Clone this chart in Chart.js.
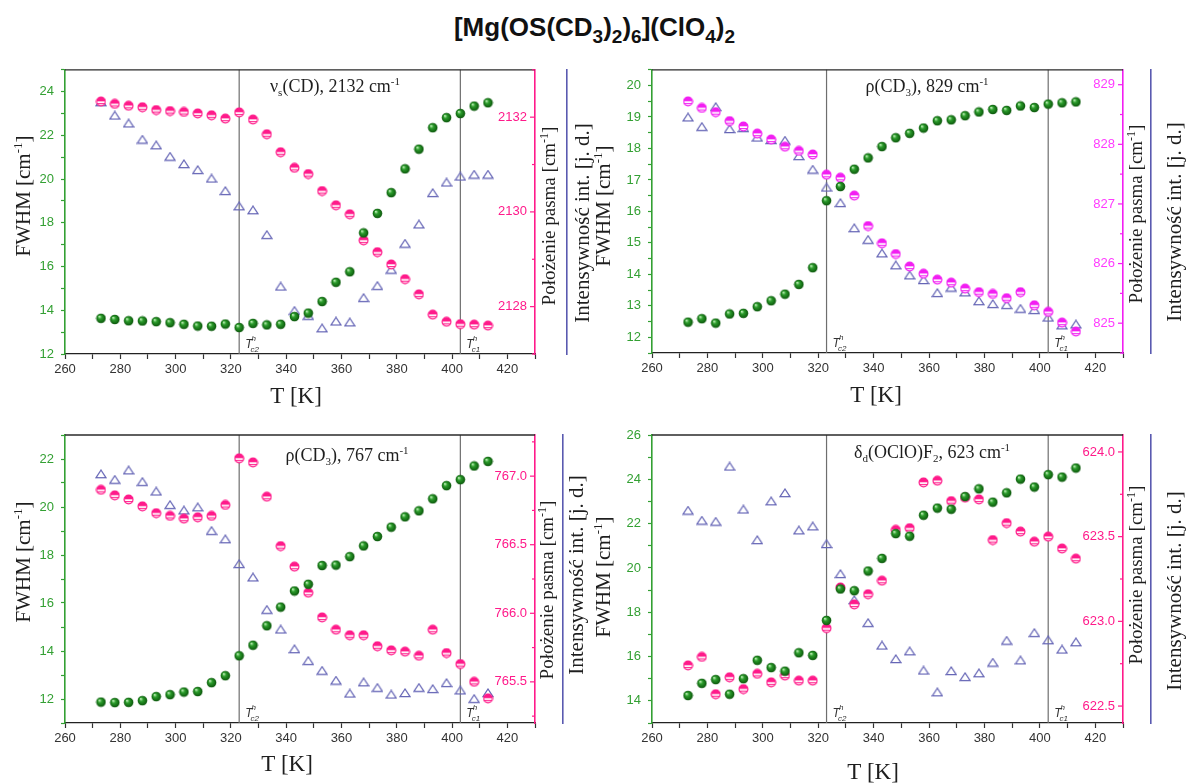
<!DOCTYPE html>
<html>
<head>
<meta charset="utf-8">
<script src="https://cdn.jsdelivr.net/npm/chart.js@4.4.0/dist/chart.umd.min.js"></script>
<style>
  html, body { margin: 0; padding: 0; background: #fff; }
  body { width: 1189px; height: 783px; position: relative; overflow: hidden; }
  #title {
    position: absolute; left: 0; top: 12px; width: 1189px; text-align: center;
    font: bold 26px "Liberation Sans", Arial, sans-serif; color: #111; line-height: 30px;
  }
  #title sub { font-size: 19px; vertical-align: -7px; line-height: 0; }
  .panel { position: absolute; }
  .panel canvas { display: block; }
</style>
</head>
<body>
<div id="title">[Mg(OS(CD<sub>3</sub>)<sub>2</sub>)<sub>6</sub>](ClO<sub>4</sub>)<sub>2</sub></div>
<div class="panel" style="left:0;top:55px;width:595px;height:360px"><canvas id="c1"></canvas></div>
<div class="panel" style="left:590px;top:55px;width:599px;height:360px"><canvas id="c2"></canvas></div>
<div class="panel" style="left:0;top:420px;width:595px;height:363px"><canvas id="c3"></canvas></div>
<div class="panel" style="left:590px;top:420px;width:599px;height:363px"><canvas id="c4"></canvas></div>

<script>
// Measurement temperatures [K]
const temperatures = [273, 278, 283, 288, 293, 298, 303, 308, 313, 318, 323, 328, 333, 338, 343,
                      348, 353, 358, 363, 368, 373, 378, 383, 388, 393, 398, 403, 408, 413];
// Phase transition temperatures on heating (T_c2^h, T_c1^h)
const transitionTemps = [323, 403];
const transitionNames = ['c2', 'c1'];

// x axis ticks
const xTickLabels = [260, 280, 300, 320, 340, 360, 380, 400, 420];

// νs(CD), 2132 cm-1
const fwhmCD2132 = [13.63, 13.58, 13.52, 13.51, 13.48, 13.43, 13.36, 13.28, 13.27, 13.37, 13.21, 13.40, 13.33, 13.36, 13.71,
                    13.87, 14.40, 15.28, 15.76, 17.54, 18.43, 19.38, 20.47, 21.37, 22.35, 22.81, 23.00, 23.34, 23.49];
const posCD2132 = [2132.33, 2132.28, 2132.24, 2132.21, 2132.15, 2132.13, 2132.11, 2132.08, 2132.04, 2131.97, 2132.10, 2131.95, 2131.64, 2131.26, 2130.93,
                   2130.80, 2130.44, 2130.14, 2129.95, 2129.40, 2129.15, 2128.89, 2128.58, 2128.26, 2127.83, 2127.68, 2127.63, 2127.62, 2127.60];
const intCD2132 = [23.52, 22.91, 22.55, 21.81, 21.55, 21.03, 20.69, 20.42, 20.03, 19.46, 18.76, 18.58, 17.45, 15.09, 13.98,
                   13.75, 13.18, 13.49, 13.45, 14.57, 15.12, 15.86, 17.05, 17.93, 19.37, 19.85, 20.12, 20.21, 20.21];
const posTicks2132 = [2128, 2130, 2132];

// ρ(CD3), 829 cm-1
const fwhmCD829 = [12.48, 12.59, 12.45, 12.74, 12.76, 12.97, 13.16, 13.37, 13.68, 14.21, 16.34, 16.79, 17.34, 17.70, 18.06,
                   18.34, 18.48, 18.65, 18.88, 18.91, 19.04, 19.16, 19.24, 19.21, 19.35, 19.30, 19.41, 19.45, 19.48];
const posCD829 = [828.72, 828.61, 828.54, 828.39, 828.30, 828.18, 828.08, 827.96, 827.89, 827.83, 827.49, 827.44, 827.14, 826.63, 826.34,
                  826.16, 825.95, 825.83, 825.73, 825.68, 825.58, 825.52, 825.49, 825.42, 825.52, 825.30, 825.19, 825.01, 824.86];
const intCD829 = [18.99, 18.69, 19.32, 18.62, 18.65, 18.35, 18.27, 18.25, 17.76, 17.33, 16.76, 16.27, 15.47, 15.10, 14.67,
                  14.29, 13.97, 13.82, 13.41, 13.58, 13.43, 13.15, 13.06, 13.03, 12.91, 12.87, 12.63, 12.38, 12.41];
const posTicks829 = [825, 826, 827, 828, 829];

// ρ(CD3), 767 cm-1
const fwhmCD767 = [11.87, 11.85, 11.86, 11.93, 12.10, 12.18, 12.29, 12.31, 12.68, 12.97, 13.80, 14.24, 15.05, 15.83, 16.50,
                   16.78, 17.56, 17.58, 17.93, 18.38, 18.77, 19.16, 19.59, 19.84, 20.34, 20.89, 21.14, 21.71, 21.90];
const posCD767 = [766.90, 766.86, 766.83, 766.78, 766.73, 766.71, 766.69, 766.70, 766.71, 766.79, 767.13, 767.10, 766.85, 766.49, 766.34,
                  766.15, 765.97, 765.88, 765.84, 765.84, 765.76, 765.73, 765.72, 765.69, 765.88, 765.71, 765.63, 765.50, 765.38];
const intCD767 = [21.37, 21.14, 21.53, 21.05, 20.65, 20.09, 19.86, 19.99, 19.01, 18.66, 17.63, 17.07, 15.72, 14.90, 14.08,
                  13.59, 13.18, 12.77, 12.23, 12.70, 12.47, 12.19, 12.25, 12.47, 12.42, 12.67, 12.36, 12.01, 12.25];
const posTicks767 = [765.5, 766.0, 766.5, 767.0];

// δd(OClO)F2, 623 cm-1
const fwhmClO623 = [14.24, 14.79, 14.96, 14.30, 15.00, 15.83, 15.50, 15.34, 16.17, 16.05, 17.63, 19.05, 18.97, 19.86, 20.43,
                    21.55, 21.43, 22.38, 22.70, 22.65, 23.22, 23.57, 22.97, 23.39, 24.01, 23.65, 24.21, 24.10, 24.51];
const posClO623 = [622.74, 622.79, 622.57, 622.67, 622.60, 622.69, 622.64, 622.68, 622.65, 622.65, 622.96, 623.20, 623.10, 623.16, 623.24,
                   623.54, 623.55, 623.82, 623.83, 623.71, 623.73, 623.72, 623.48, 623.58, 623.53, 623.47, 623.50, 623.43, 623.37];
const intClO623 = [22.59, 22.14, 22.09, 24.58, 22.64, 21.26, 23.01, 23.38, 21.70, 21.88, 21.08, 19.73, 18.55, 17.52, 16.50,
                   15.89, 16.24, 15.37, 14.39, 15.35, 15.08, 15.25, 15.73, 16.72, 15.83, 17.07, 16.74, 16.32, 16.65];
const posTicks623 = [622.5, 623.0, 623.5, 624.0];

// ---------- colours and fonts ----------
const GREEN_AXIS = '#33a033';
const BLUE = '#6666b6';
const BLUE_AXIS = '#5a5ab0';
const PINK = '#ff1a8a';
const MAGENTA = '#f21ef2';
const SERIF = '"Liberation Serif", "Times New Roman", serif';
const SANS = '"Liberation Sans", Arial, sans-serif';
const TEXT = '#1e1e1e';

// ---------- marker images ----------
function sphereMarker() {
  const c = document.createElement('canvas');
  c.width = 11; c.height = 11;
  const g = c.getContext('2d');
  const cx = 5.5, cy = 5.5, r = 4.8;
  const grad = g.createRadialGradient(cx - 1.7, cy - 1.9, 0.3, cx, cy, r);
  grad.addColorStop(0, '#c4f2bc');
  grad.addColorStop(0.35, '#2c9e2c');
  grad.addColorStop(1, '#0a550a');
  g.beginPath(); g.arc(cx, cy, r, 0, Math.PI * 2);
  g.fillStyle = grad; g.fill();
  return c;
}
function halfMarker(col) {
  const c = document.createElement('canvas');
  c.width = 11; c.height = 11;
  const g = c.getContext('2d');
  const cx = 5.5, cy = 5.5, r = 4.4;
  g.beginPath(); g.arc(cx, cy, r, 0, Math.PI * 2);
  g.fillStyle = '#fff'; g.fill();
  g.save(); g.clip();
  g.fillStyle = col;
  g.fillRect(0, 0, 11, cy - 0.2);
  g.fillRect(0, cy + 1.6, 11, 1.1);
  g.restore();
  g.beginPath(); g.arc(cx, cy, r, 0, Math.PI * 2);
  g.strokeStyle = col; g.lineWidth = 1.2; g.stroke();
  return c;
}
function triangleMarker(col) {
  const c = document.createElement('canvas');
  c.width = 12; c.height = 10;
  const g = c.getContext('2d');
  g.beginPath();
  g.moveTo(1, 8.6); g.lineTo(11, 8.6); g.lineTo(6, 1); g.closePath();
  g.strokeStyle = col; g.lineWidth = 1.2; g.stroke();
  return c;
}
const greenImg = sphereMarker();
const pinkImg = halfMarker(PINK);
const magentaImg = halfMarker(MAGENTA);
const triImg = triangleMarker(BLUE);

// ---------- rich text (sub/superscripts) ----------
function partFont(size, kind, style, family) {
  const s = kind === 'n' ? size : Math.round(size * 0.62);
  return `${style} ${s}px ${family}`;
}
function richWidth(ctx, parts, size, style, family) {
  let w = 0;
  for (const [t, k] of parts) { ctx.font = partFont(size, k, style, family); w += ctx.measureText(t).width; }
  return w;
}
function drawRich(ctx, parts, x, y, size, opts) {
  const style = opts.style || 'normal', family = opts.family || SERIF;
  const w = richWidth(ctx, parts, size, style, family);
  let cx = opts.align === 'left' ? x : x - w / 2;
  ctx.textAlign = 'left';
  ctx.textBaseline = 'alphabetic';
  ctx.fillStyle = opts.color || TEXT;
  for (const [t, k] of parts) {
    ctx.font = partFont(size, k, style, family);
    const dy = k === 'sub' ? size * 0.24 : (k === 'sup' ? -size * 0.38 : 0);
    ctx.fillText(t, cx, y + dy);
    cx += ctx.measureText(t).width;
  }
}
function drawRotated(ctx, parts, x, y, size) {
  ctx.save();
  ctx.translate(x, y);
  ctx.rotate(-Math.PI / 2);
  drawRich(ctx, parts, 0, size * 0.34, size, {});
  ctx.restore();
}

// ---------- decorations drawn on top of the library's axes ----------
const decor = {
  id: 'decor',
  beforeDatasetsDraw(chart, args, o) {
    const { ctx, chartArea: a, scales } = chart;
    ctx.save();
    ctx.strokeStyle = '#6e6e6e';
    ctx.lineWidth = 1.2;
    for (const t of transitionTemps) {
      const x = scales.x.getPixelForValue(t);
      ctx.beginPath(); ctx.moveTo(x, a.top); ctx.lineTo(x, a.bottom); ctx.stroke();
    }
    ctx.restore();
  },
  afterDraw(chart, args, o) {
    const { ctx, chartArea: a, scales } = chart;
    ctx.save();
    // top frame line
    ctx.strokeStyle = '#2a2a2a'; ctx.lineWidth = 1.3;
    ctx.beginPath(); ctx.moveTo(a.left, a.top); ctx.lineTo(a.right, a.top); ctx.stroke();

    // transition temperature labels
    transitionTemps.forEach((t, i) => {
      const x = scales.x.getPixelForValue(t) + 6;
      const y = a.bottom - 6;
      ctx.fillStyle = '#333';
      ctx.textAlign = 'left'; ctx.textBaseline = 'alphabetic';
      ctx.font = `italic 12px ${SANS}`;
      ctx.fillText('T', x, y);
      const w = ctx.measureText('T').width;
      ctx.font = `italic 8px ${SANS}`;
      ctx.fillText('h', x + w - 1, y - 7);
      ctx.fillText(transitionNames[i], x + w - 2, y + 4);
    });

    // position axis: inward ticks and labels
    const y2 = scales.y2;
    ctx.strokeStyle = o.pinkColor; ctx.lineWidth = 1.2;
    const n = Math.round((y2.max - y2.min) / o.pinkMinor);
    const start = Math.ceil(y2.min / o.pinkMinor - 1e-6);
    for (let k = start; k * o.pinkMinor <= y2.max + 1e-9; k++) {
      const v = k * o.pinkMinor;
      const py = y2.getPixelForValue(v);
      const major = o.pinkTicks.some(t => Math.abs(t - v) < 1e-6);
      ctx.beginPath(); ctx.moveTo(a.right, py); ctx.lineTo(a.right - (major ? 5 : 3), py); ctx.stroke();
    }
    ctx.fillStyle = o.pinkText;
    ctx.font = `13px ${SANS}`;
    ctx.textAlign = 'right'; ctx.textBaseline = 'middle';
    for (const t of o.pinkTicks) {
      ctx.fillText(t.toFixed(o.pinkDecimals), a.right - 8, y2.getPixelForValue(t));
    }

    // panel label
    drawRich(ctx, o.label, o.labelPos[0], o.labelPos[1] + 6, 18, {});

    // axis titles
    const cm = [['FWHM [cm', 'n'], ['-1', 'sup'], [']', 'n']];
    drawRotated(ctx, cm, o.fwhmTitle[0], o.fwhmTitle[1], 21);
    drawRich(ctx, [['T [K]', 'n']], o.xTitle[0], o.xTitle[1] + 8, 23, {});
    drawRotated(ctx, [['Położenie pasma [cm', 'n'], ['-1', 'sup'], [']', 'n']], o.posTitle[0], o.posTitle[1], 19);
    drawRotated(ctx, [['Intensywność int. [j. d.]', 'n']], o.intTitle[0], o.intTitle[1], 21);
    ctx.restore();
  }
};

function points(values) {
  return temperatures.map((t, i) => ({ x: t, y: values[i] }));
}

function makePanel(id, p) {
  new Chart(document.getElementById(id), {
    type: 'scatter',
    data: {
      datasets: [
        { label: 'FWHM', data: points(p.fwhm), yAxisID: 'y', pointStyle: greenImg, pointRadius: 5 },
        { label: 'Położenie pasma', data: points(p.pos), yAxisID: 'y2', pointStyle: p.pinkImg, pointRadius: 5 },
        { label: 'Intensywność int.', data: points(p.int), yAxisID: 'y3', pointStyle: triImg, pointRadius: 5 }
      ]
    },
    options: {
      responsive: true,
      maintainAspectRatio: false,
      devicePixelRatio: 1,
      animation: false,
      events: [],
      layout: { padding: { top: p.plotTop, left: 0, right: 0, bottom: 0 } },
      plugins: {
        legend: { display: false },
        tooltip: { enabled: false },
        decor: {
          label: p.label, labelPos: p.labelPos,
          pinkColor: p.pinkColor, pinkText: p.pinkText, pinkTicks: p.posTicks,
          pinkMinor: p.posMinor, pinkDecimals: p.posDecimals,
          fwhmTitle: p.fwhmTitle, xTitle: p.xTitle, posTitle: p.posTitle, intTitle: p.intTitle
        }
      },
      scales: {
        x: {
          type: 'linear', position: 'bottom', min: 260, max: 430,
          ticks: {
            stepSize: 10, autoSkip: false, maxRotation: 0, padding: 3, color: '#333',
            font: { family: SANS, size: 13 },
            callback: v => xTickLabels.includes(v) ? String(v) : ''
          },
          grid: { drawOnChartArea: false, tickLength: 5, tickColor: '#333', tickWidth: 1.2 },
          border: { color: '#222', width: 1.3 },
          afterFit: s => { s.height = p.height - p.plotBottom; }
        },
        y: {
          type: 'linear', position: 'left', min: p.fwhmMin, max: p.fwhmMax,
          ticks: {
            stepSize: p.fwhmStep, autoSkip: false, padding: 7, color: GREEN_AXIS,
            font: { family: SANS, size: 13 },
            callback: v => (Math.abs(v / p.fwhmLabelStep - Math.round(v / p.fwhmLabelStep)) < 1e-6) ? String(v) : ''
          },
          grid: { drawOnChartArea: false, tickLength: 4, tickColor: GREEN_AXIS, tickWidth: 1.2 },
          border: { color: GREEN_AXIS, width: 1.6 },
          afterFit: s => { s.width = p.plotLeft; }
        },
        y2: {
          type: 'linear', position: 'right', min: p.posMin, max: p.posMax,
          ticks: { display: false },
          grid: { drawOnChartArea: false, drawTicks: false },
          border: { color: p.pinkColor, width: 1.6 },
          afterFit: s => { s.width = p.posWidth; }
        },
        y3: {
          type: 'linear', position: 'right', min: p.fwhmMin, max: p.fwhmMax,
          ticks: { display: false },
          grid: { drawOnChartArea: false, drawTicks: false },
          border: { color: BLUE_AXIS, width: 1.6 },
          afterFit: s => { s.width = p.width - p.plotRight - p.posWidth; }
        }
      }
    },
    plugins: [decor]
  });
}

makePanel('c1', {
  width: 595, height: 360, plotLeft: 65, plotRight: 535, plotTop: 12, plotBottom: 299, posWidth: 32,
  fwhm: fwhmCD2132, pos: posCD2132, int: intCD2132,
  fwhmMin: 12, fwhmMax: 25, fwhmStep: 1, fwhmLabelStep: 2,
  posMin: 2127, posMax: 2133, posTicks: posTicks2132, posMinor: 1, posDecimals: 0,
  pinkColor: PINK, pinkText: PINK, pinkImg: pinkImg,
  label: [['ν', 'n'], ['s', 'sub'], ['(CD), 2132 cm', 'n'], ['-1', 'sup']], labelPos: [335, 31],
  fwhmTitle: [23, 141], xTitle: [296, 340], posTitle: [549, 161], intTitle: [582, 168]
});
makePanel('c2', {
  width: 599, height: 360, plotLeft: 62, plotRight: 533, plotTop: 12, plotBottom: 298, posWidth: 28,
  fwhm: fwhmCD829, pos: posCD829, int: intCD829,
  fwhmMin: 11.5, fwhmMax: 20.5, fwhmStep: 0.5, fwhmLabelStep: 1,
  posMin: 824.5, posMax: 829.25, posTicks: posTicks829, posMinor: 0.5, posDecimals: 0,
  pinkColor: MAGENTA, pinkText: '#ff3cff', pinkImg: magentaImg,
  label: [['ρ(CD', 'n'], ['3', 'sub'], ['), 829 cm', 'n'], ['-1', 'sup']], labelPos: [337, 31],
  fwhmTitle: [13, 151], xTitle: [286, 339], posTitle: [546, 159], intTitle: [584, 167]
});
makePanel('c3', {
  width: 595, height: 363, plotLeft: 65, plotRight: 535, plotTop: 15, plotBottom: 303, posWidth: 28,
  fwhm: fwhmCD767, pos: posCD767, int: intCD767,
  fwhmMin: 11, fwhmMax: 23, fwhmStep: 1, fwhmLabelStep: 2,
  posMin: 765.2, posMax: 767.3, posTicks: posTicks767, posMinor: 0.25, posDecimals: 1,
  pinkColor: PINK, pinkText: PINK, pinkImg: pinkImg,
  label: [['ρ(CD', 'n'], ['3', 'sub'], ['), 767 cm', 'n'], ['-1', 'sup']], labelPos: [347, 35],
  fwhmTitle: [23, 142], xTitle: [287, 343], posTitle: [547, 170], intTitle: [576, 155]
});
makePanel('c4', {
  width: 599, height: 363, plotLeft: 62, plotRight: 533, plotTop: 15, plotBottom: 303, posWidth: 28,
  fwhm: fwhmClO623, pos: posClO623, int: intClO623,
  fwhmMin: 13, fwhmMax: 26, fwhmStep: 1, fwhmLabelStep: 2,
  posMin: 622.4, posMax: 624.1, posTicks: posTicks623, posMinor: 0.25, posDecimals: 1,
  pinkColor: PINK, pinkText: PINK, pinkImg: pinkImg,
  label: [['δ', 'n'], ['d', 'sub'], ['(OClO)F', 'n'], ['2', 'sub'], [', 623 cm', 'n'], ['-1', 'sup']], labelPos: [342, 32],
  fwhmTitle: [13, 157], xTitle: [283, 351], posTitle: [546, 155], intTitle: [584, 171]
});
</script>
</body>
</html>
